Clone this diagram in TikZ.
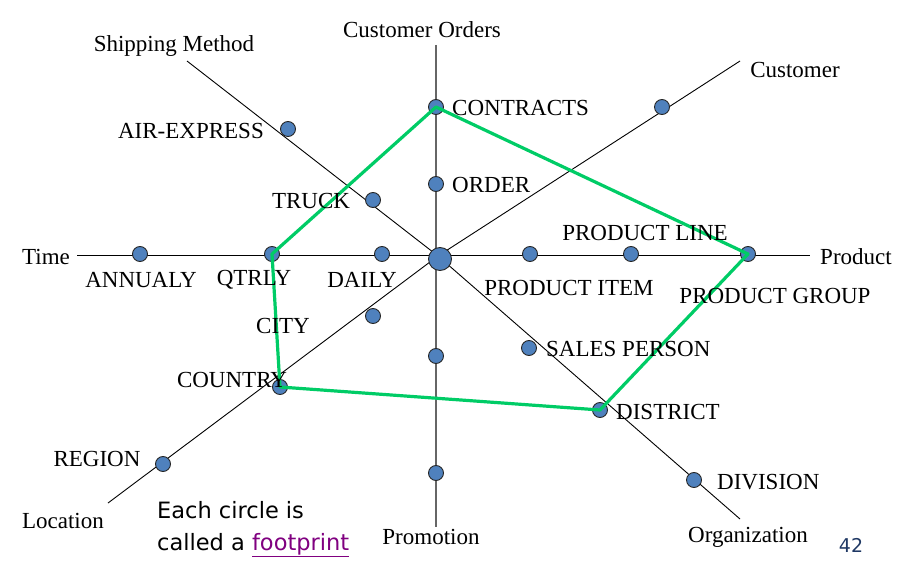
\documentclass[tikz,border=0pt]{standalone}
\usepackage{fontspec}
\setmainfont{Liberation Serif}
\newfontfamily\notefont{DejaVu Sans}
\usepackage{tikz}
\usetikzlibrary{positioning}

\definecolor{dotblue}{RGB}{79,129,189}
\definecolor{printgreen}{RGB}{0,204,102}
\definecolor{linkpurple}{RGB}{128,0,128}
\definecolor{pageblue}{RGB}{31,56,100}

\tikzset{
  lvl/.style={circle, draw=black!85, fill=dotblue, line width=0.9pt,
    minimum size=15pt, inner sep=0pt},
  hub/.style={lvl, minimum size=23pt},
  axis/.style={draw=black, line width=0.9pt},
  txt/.style={font=\fontsize{23}{26}\selectfont, inner sep=0pt},
  trail/.style={draw=printgreen, line width=3.2pt, line join=round},
}

\begin{document}
\begin{tikzpicture}[x=1pt, y=-1pt]
  \useasboundingbox (0,0) rectangle (905,572);

  % axis ends
  \coordinate (top) at (436,45);
  \coordinate (bottom) at (436,527);
  \coordinate (left) at (77,255);
  \coordinate (right) at (810,255);
  \coordinate (ship) at (187,61);
  \coordinate (cust) at (740,61);
  \coordinate (loc) at (108,503);
  \coordinate (org) at (740,519);
  \coordinate (mid) at (438,256);

  \draw[axis, draw=black!60, line width=1.8pt] (top) -- (bottom);
  \draw[axis] (left) -- (right);
  \draw[axis] (ship) -- (mid) -- (org);
  \draw[axis] (loc) -- (mid) -- (cust);

  % footprints
  \node[lvl] (contracts) at (436,107) {};
  \node[lvl] (order) at (436,184) {};
  \node[lvl] (promoa) at (436,356) {};
  \node[lvl] (promob) at (436,473) {};
  \node[lvl] (annualy) at (140,254) {};
  \node[lvl] (qtrly) at (272,254) {};
  \node[lvl] (daily) at (382,254) {};
  \node[lvl] (pitem) at (530,254) {};
  \node[lvl] (pline) at (631,254) {};
  \node[lvl] (pgroup) at (748,254) {};
  \node[lvl] (airx) at (288,129) {};
  \node[lvl] (truck) at (373,200) {};
  \node[lvl] (custa) at (662,107) {};
  \node[lvl] (region) at (163,464) {};
  \node[lvl] (country) at (280,387) {};
  \node[lvl] (city) at (373,316) {};
  \node[lvl] (sales) at (529,348) {};
  \node[lvl] (district) at (600,410) {};
  \node[lvl] (division) at (694,480) {};
  \node[hub] (center) at (440,259) {};

  % the footprint trail
  \draw[trail] (contracts.center) -- (pgroup.center) -- (district.center)
    -- (country.center) -- (qtrly.center) -- cycle;

  % axis names
  \node[txt] (tcorders) at (422,30) {Customer Orders};
  \node[txt] (tship) at (174,46) {Shipping Method};
  \node[txt] (tcust) at (795,70) {Customer};
  \node[txt] (ttime) at (46,257) {Time};
  \node[txt] (tprod) at (856,257) {Product};
  \node[txt] (tloc) at (63,521) {Location};
  \node[txt] (tpromo) at (431,537) {Promotion};
  \node[txt] (torg) at (748,537) {Organization};

  % level names
  \node[txt, anchor=west] (tcontracts) at (452,108) {CONTRACTS};
  \node[txt, anchor=west] (torder) at (452,185) {ORDER};
  \node[txt, anchor=east] (tairx) at (264,131) {AIR-EXPRESS};
  \node[txt] (ttruck) at (311,201) {TRUCK};
  \node[txt] (tannualy) at (141,280) {ANNUALY};
  \node[txt] (tqtrly) at (254,280) {QTRLY};
  \node[txt] (tdaily) at (362,280) {DAILY};
  \node[txt] (tpline) at (645,233) {PRODUCT LINE};
  \node[txt] (tpitem) at (569,288) {PRODUCT ITEM};
  \node[txt] (tpgroup) at (775,296) {PRODUCT GROUP};
  \node[txt] (tcity) at (283,326) {CITY};
  \node[txt] (tcountry) at (232,380) {COUNTRY};
  \node[txt, anchor=west] (tsales) at (546,349) {SALES PERSON};
  \node[txt, anchor=west] (tdistrict) at (616,412) {DISTRICT};
  \node[txt, anchor=west] (tdivision) at (717,482) {DIVISION};
  \node[txt] (tregion) at (97,459) {REGION};

  % note
  \node[anchor=north west, align=left, inner sep=0pt,
    font=\notefont\fontsize{22.5}{32}\selectfont] (note) at (157,501)
    {Each circle is\\called a \textcolor{linkpurple}{\underline{footprint}}};
  \node[font=\notefont\fontsize{19}{20}\selectfont, text=pageblue,
    inner sep=0pt] (page) at (851,545) {42};
\end{tikzpicture}
\end{document}
